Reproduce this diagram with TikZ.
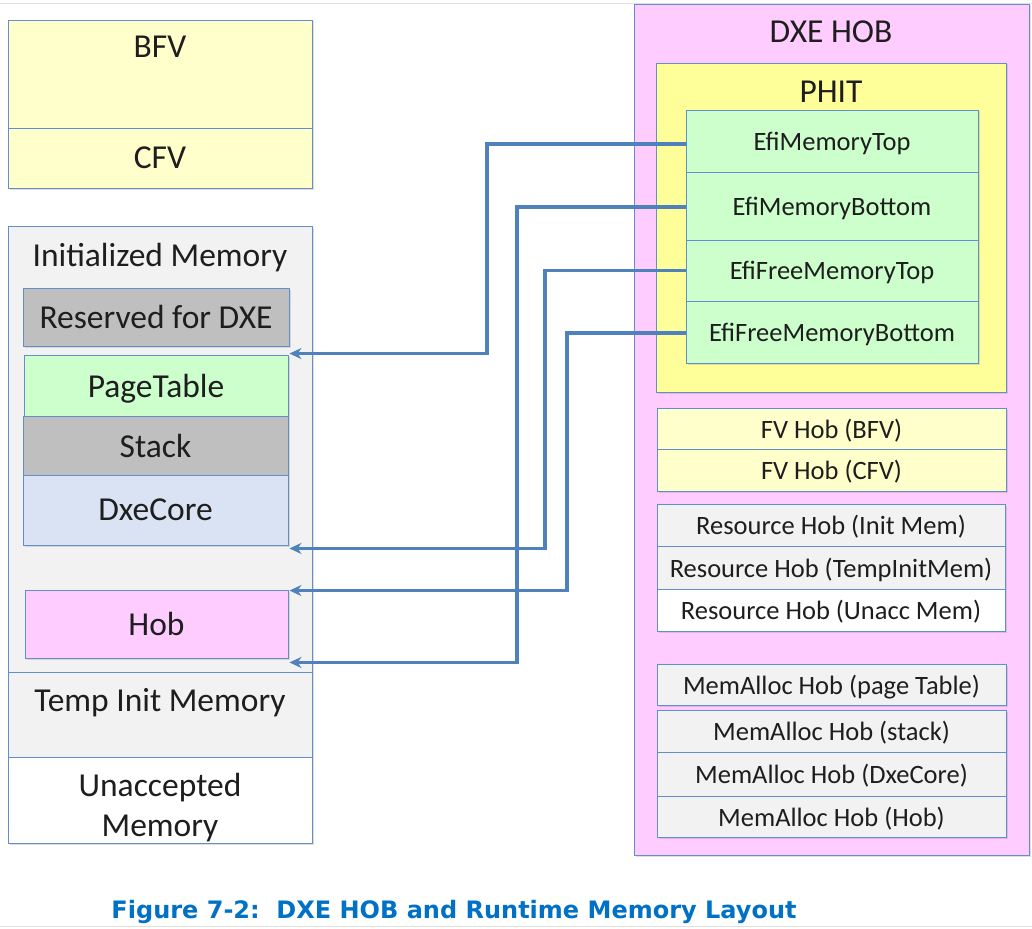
\documentclass[tikz,border=0pt]{standalone}
\usepackage{fontspec}
\setmainfont{Carlito}
\newfontfamily\capfont{DejaVu Sans}
\usetikzlibrary{arrows.meta,shadows}
\definecolor{bord}{RGB}{98,142,205}
\definecolor{arrc}{RGB}{79,129,189}
\definecolor{ltyel}{RGB}{255,255,204}
\definecolor{yel}{RGB}{255,255,153}
\definecolor{grn}{RGB}{204,255,204}
\definecolor{pnk}{RGB}{255,204,255}
\definecolor{gry}{RGB}{191,191,191}
\definecolor{ltgry}{RGB}{242,242,242}
\definecolor{ltblu}{RGB}{218,227,243}
\definecolor{capc}{RGB}{0,113,197}
\definecolor{txt}{RGB}{30,30,30}
\tikzset{
  box/.style={draw=bord, line width=0.9pt, rectangle, inner sep=0pt, text=txt, text depth=0pt,
    drop shadow={shadow xshift=1.5pt, shadow yshift=-1.5pt, opacity=0.25}},
  big/.style={font=\fontsize{33.5}{40}\selectfont},
  small/.style={font=\fontsize{26.5}{30}\selectfont},
  lbl/.style={text=txt, inner sep=0pt, text depth=0pt},
  arr/.style={draw=arrc, line width=3.4pt, -{Stealth[length=12pt,width=11pt]}},
}
\begin{document}
\begin{tikzpicture}[x=1pt,y=-1pt]
\useasboundingbox (0,0) rectangle (1032,928);
% faint page rules
\draw[black!12, line width=0.8pt] (0,3) -- (1032,3);
\draw[black!12, line width=0.8pt] (0,926) -- (1032,926);

% ---- left column ----
\node[box, fill=ltyel, minimum width=304, minimum height=108] (bfv) at (160,74) {};
\node[lbl, big] (bfvt) at (160,47) {BFV};
\node[box, fill=ltyel, minimum width=304, minimum height=60, big] (cfv) at (160,158) {CFV};

\node[box, fill=ltgry, minimum width=304, minimum height=446] (initmem) at (160,449) {};
\node[lbl, big] (initmemt) at (160,255) {Initialized Memory};
\node[box, fill=ltgry, minimum width=304, minimum height=85] (tempinit) at (160,714.5) {};
\node[lbl, big] (tempinitt) at (160,700) {Temp Init Memory};
\node[box, fill=white, minimum width=304, minimum height=86] (unacc) at (160,800) {};
\node[lbl, align=center, font=\fontsize{33.5}{40}\selectfont] (unacct) at (160,805) {Unaccepted\\Memory};

\node[box, fill=gry, minimum width=266, minimum height=58, big] (reserved) at (156,317) {Reserved for DXE};
\node[box, fill=grn, minimum width=264, minimum height=61, big] (pagetable) at (156,385.5) {PageTable};
\node[box, fill=gry, minimum width=265, minimum height=59, big] (stack) at (155.5,445.5) {Stack};
\node[box, fill=ltblu, minimum width=265, minimum height=70, big] (dxecore) at (155.5,510) {DxeCore};
\node[box, fill=pnk, minimum width=263, minimum height=68, big] (hob) at (156.5,624) {Hob};

% ---- right column ----
\node[box, fill=pnk, minimum width=395, minimum height=851] (dxehob) at (831.5,429.5) {};
\node[lbl, big] (dxehobt) at (831,32) {DXE HOB};
\node[box, fill=yel, minimum width=350, minimum height=329] (phit) at (831,227.5) {};
\node[lbl, big] (phitt) at (831,92) {PHIT};
\node[box, fill=grn, minimum width=292, minimum height=62, small] (mtop) at (832,141) {EfiMemoryTop};
\node[box, fill=grn, minimum width=292, minimum height=68, small] (mbot) at (832,206) {EfiMemoryBottom};
\node[box, fill=grn, minimum width=292, minimum height=61, small] (ftop) at (832,270.5) {EfiFreeMemoryTop};
\node[box, fill=grn, minimum width=292, minimum height=62, small] (fbot) at (832,332) {EfiFreeMemoryBottom};

\node[box, fill=ltyel, minimum width=349, minimum height=41, small] (fvb) at (831.5,428.5) {FV Hob (BFV)};
\node[box, fill=ltyel, minimum width=349, minimum height=42, small] (fvc) at (831.5,470) {FV Hob (CFV)};

\node[box, fill=ltgry, minimum width=348, minimum height=42, small] (res1) at (831,525) {Resource Hob (Init Mem)};
\node[box, fill=ltgry, minimum width=348, minimum height=43, small] (res2) at (831,567.5) {Resource Hob (TempInitMem)};
\node[box, fill=white, minimum width=348, minimum height=42, small] (res3) at (831,610) {Resource Hob (Unacc Mem)};

\node[box, fill=ltgry, minimum width=349, minimum height=41, small] (ma1) at (831.5,684.5) {MemAlloc Hob (page Table)};
\node[box, fill=ltgry, minimum width=349, minimum height=42, small] (ma2) at (831.5,731) {MemAlloc Hob (stack)};
\node[box, fill=ltgry, minimum width=349, minimum height=44, small] (ma3) at (831.5,774) {MemAlloc Hob (DxeCore)};
\node[box, fill=ltgry, minimum width=349, minimum height=41, small] (ma4) at (831.5,816.5) {MemAlloc Hob (Hob)};

% ---- connectors ----
\coordinate (v1) at (487,0);
\coordinate (v2) at (517,0);
\coordinate (v3) at (545,0);
\coordinate (v4) at (567,0);
\draw[arr] ([yshift=-3pt]mtop.west) -- ([yshift=-3pt]mtop.west -| v1) |- ([xshift=1pt,yshift=1pt]pagetable.north east);
\draw[arr] ([yshift=-1pt]mbot.west) -- ([yshift=-1pt]mbot.west -| v2) |- ([xshift=1pt,yshift=-4pt]hob.south east);
\draw[arr] (ftop.west) -- (ftop.west -| v3) |- ([xshift=1pt,yshift=-3pt]dxecore.south east);
\draw[arr] ([yshift=-1pt]fbot.west) -- ([yshift=-1pt]fbot.west -| v4) |- ([xshift=1pt,yshift=-1pt]hob.north east);

% ---- caption ----
\node[text=capc, inner sep=0pt, font=\capfont\bfseries\fontsize{24}{28}\selectfont] (cap) at (454,912)
  {Figure 7-2:\ \ DXE HOB and Runtime Memory Layout};
\end{tikzpicture}
\end{document}
